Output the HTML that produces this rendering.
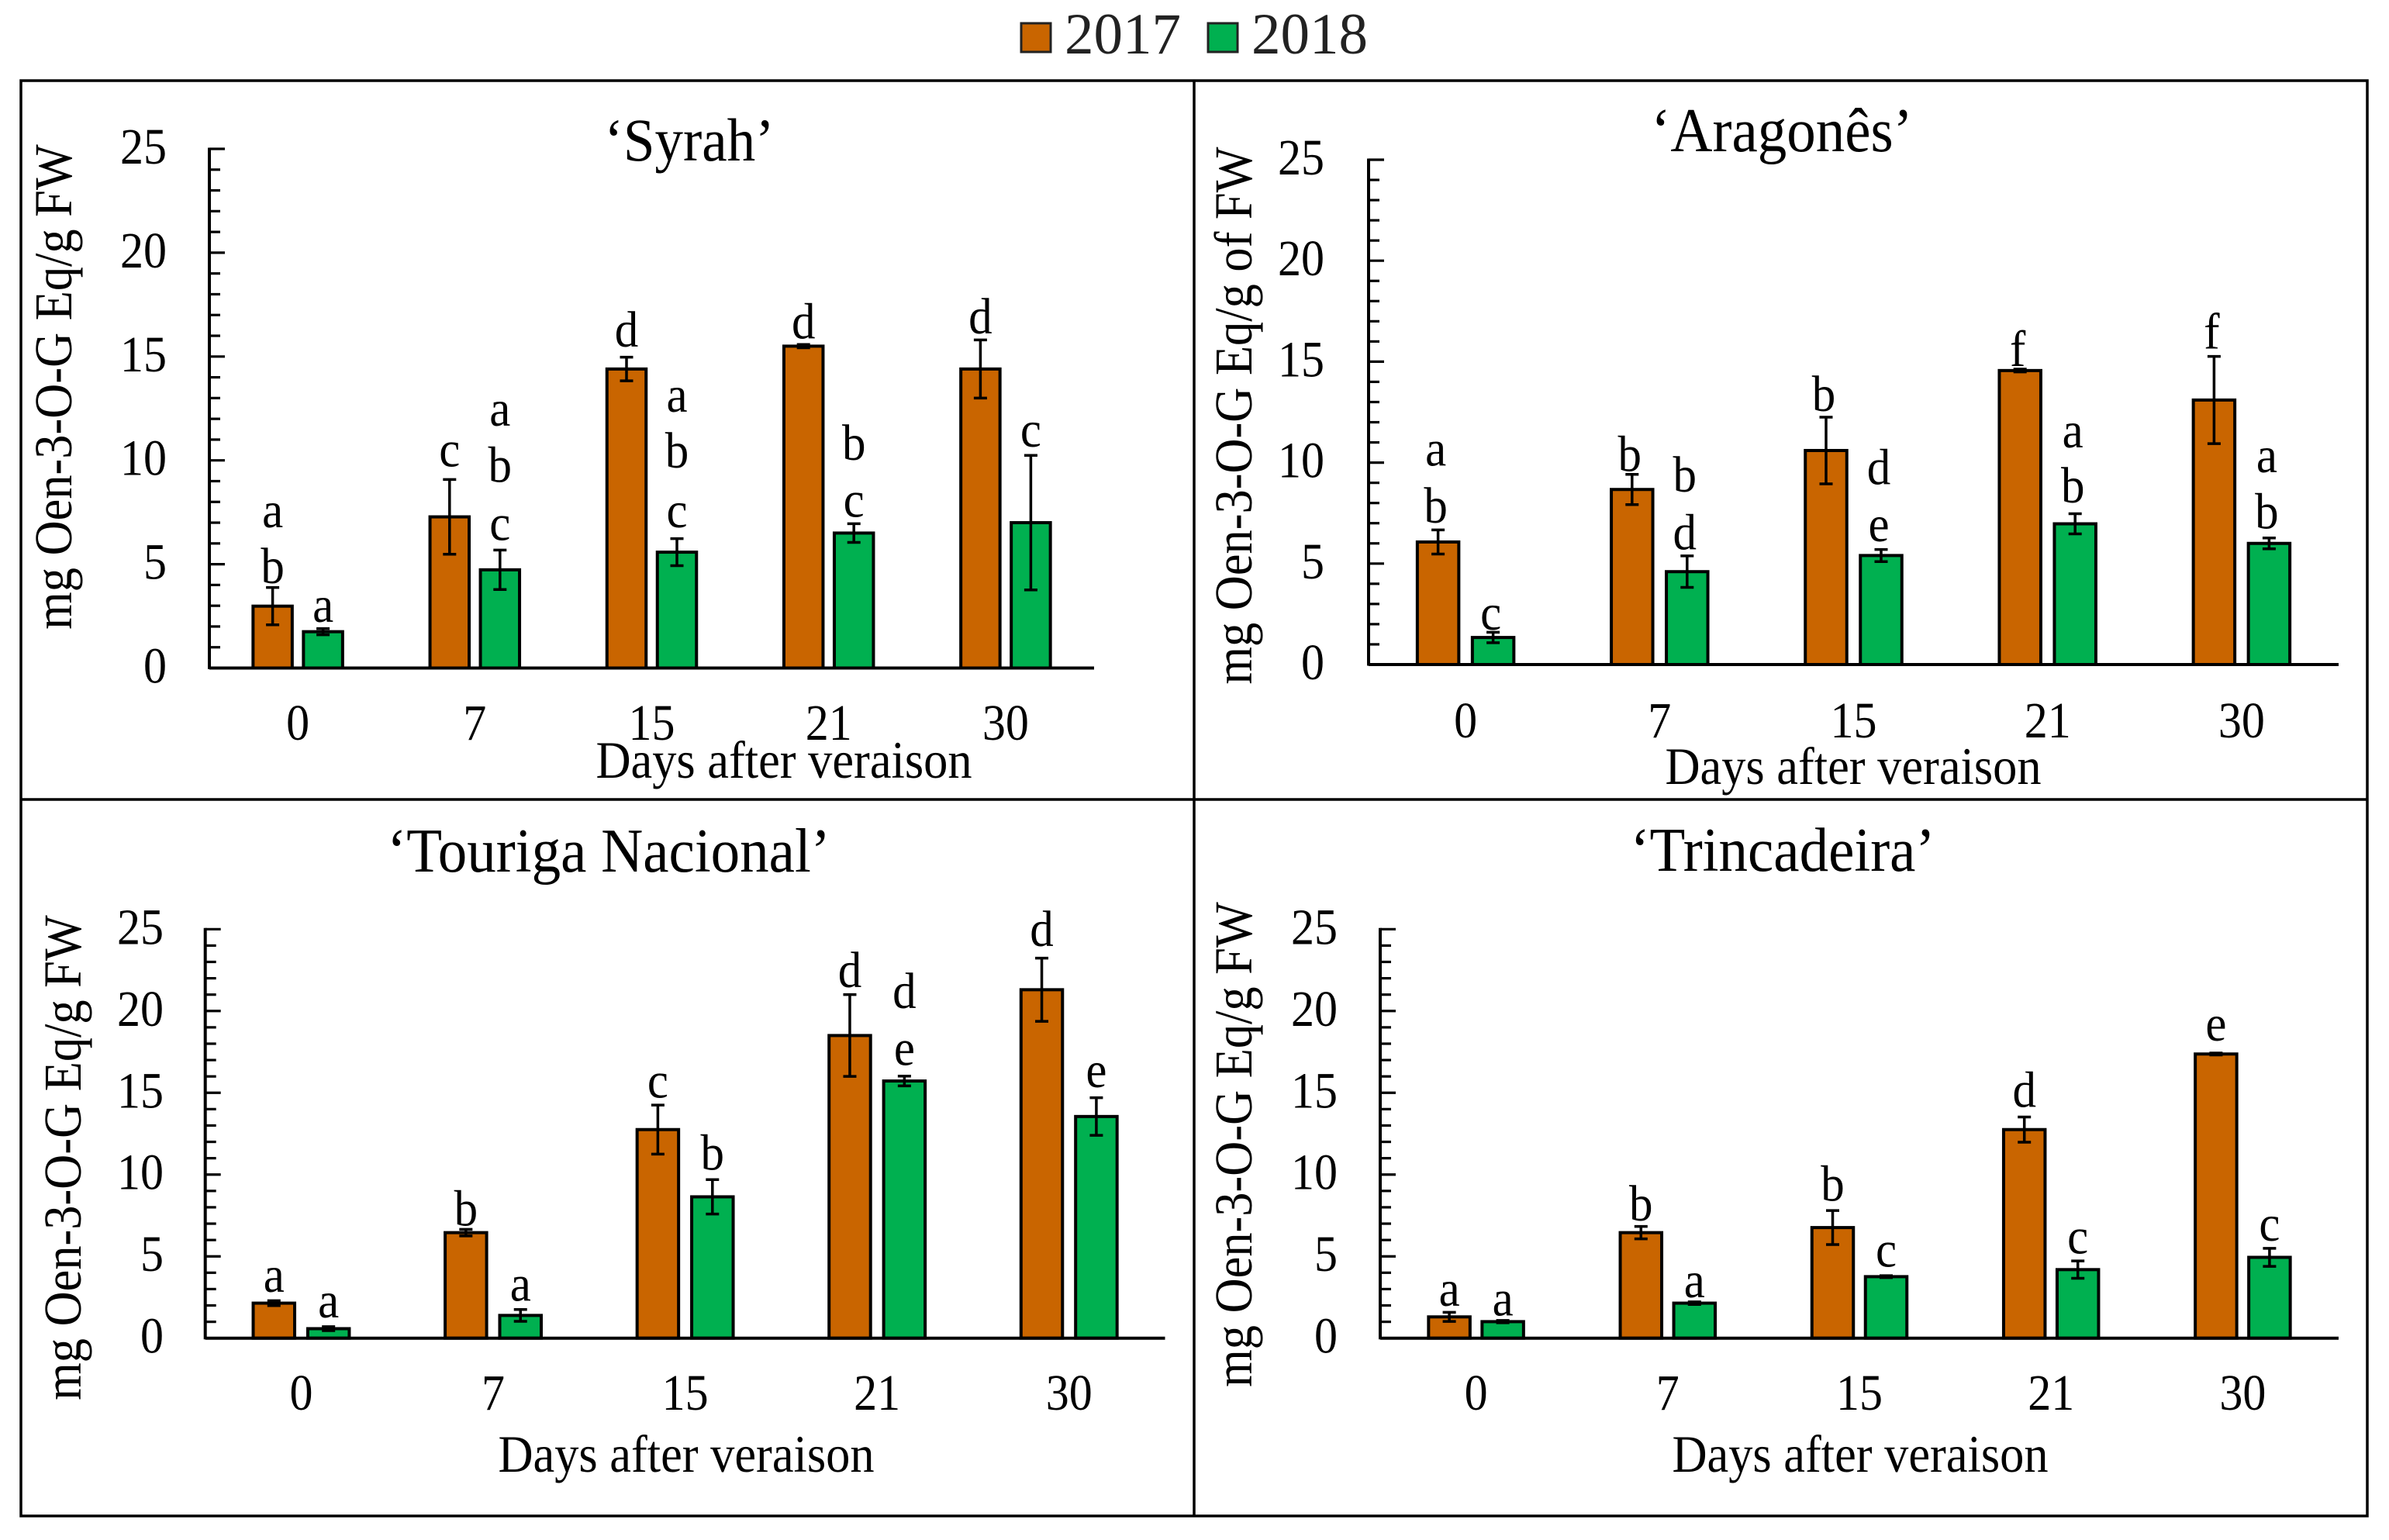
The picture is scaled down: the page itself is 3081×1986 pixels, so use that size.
<!DOCTYPE html>
<html>
<head>
<meta charset="utf-8">
<title>Oen-3-O-G by days after veraison</title>
<style>
html,body{margin:0;padding:0;background:#fff;}
svg{display:block;}
text{font-family:"Liberation Serif",serif;fill:#000;}
.title{font-size:75px;}
.axis-title{font-size:62.4px;}
.tick{font-size:60px;}
.letter{font-size:61px;}
.legend-text{font-size:75px;fill:#222;}
</style>
</head>
<body>
<svg id="chart" xmlns="http://www.w3.org/2000/svg" width="3081" height="1986" viewBox="0 0 3081 1986">
  <rect x="0" y="0" width="3081" height="1986" fill="#fff"/>

  <g>
    <rect x="1317" y="30" width="38" height="37" fill="#C96500" stroke="#222" stroke-width="3"/>
    <text class="legend-text" x="1373" y="69">2017</text>
    <rect x="1558" y="30" width="38" height="37" fill="#00B050" stroke="#222" stroke-width="3"/>
    <text class="legend-text" x="1614" y="69">2018</text>
  </g>

  <g fill="none" stroke="#000" stroke-width="3.5">
    <rect x="27" y="104" width="3026" height="1851"/>
    <line x1="1540" y1="104" x2="1540" y2="1955"/>
    <line x1="27" y1="1031" x2="3053" y2="1031"/>
  </g>

  <text class="title" style="font-size:73px" text-anchor="middle" transform="translate(889,207) scale(1,1.08)">‘Syrah’</text>
  <text class="title" text-anchor="middle" transform="translate(2298,195) scale(1,1.08)">‘Aragonês’</text>
  <text class="title" text-anchor="middle" transform="translate(785,1124) scale(1,1.08)">‘Touriga Nacional’</text>
  <text class="title" text-anchor="middle" transform="translate(2299,1123) scale(1,1.08)">‘Trincadeira’</text>

  <text class="axis-title" text-anchor="middle" transform="translate(92,499) rotate(-90) scale(1,1.1)">mg Oen-3-O-G Eq/g FW</text>
  <text class="axis-title" text-anchor="middle" transform="translate(1614,536) rotate(-90) scale(1,1.1)">mg Oen-3-O-G Eq/g of FW</text>
  <text class="axis-title" text-anchor="middle" transform="translate(104,1493) rotate(-90) scale(1,1.1)">mg Oen-3-O-G Eq/g FW</text>
  <text class="axis-title" text-anchor="middle" transform="translate(1614,1476) rotate(-90) scale(1,1.1)">mg Oen-3-O-G Eq/g FW</text>

  <text class="axis-title" text-anchor="middle" transform="translate(1011,1003) scale(1,1.08)">Days after veraison</text>
  <text class="axis-title" text-anchor="middle" transform="translate(2390,1011) scale(1,1.08)">Days after veraison</text>
  <text class="axis-title" text-anchor="middle" transform="translate(885,1898) scale(1,1.08)">Days after veraison</text>
  <text class="axis-title" text-anchor="middle" transform="translate(2399,1898) scale(1,1.08)">Days after veraison</text>

  <g id="plots"></g>
</svg>

<script>
const days = ["0", "7", "15", "21", "30"];
const yTickLabels = [0, 5, 10, 15, 20, 25];
const yMax = 25;
const yMinorStep = 1;

const syrahValues2017 = [2.98, 7.28, 14.4, 15.5, 14.4];
const syrahValues2018 = [1.75, 4.73, 5.58, 6.5, 7.0];
const syrahErrors2017 = [0.9, 1.8, 0.57, 0.08, 1.4];
const syrahErrors2018 = [0.15, 0.95, 0.65, 0.45, 3.24];
const syrahLetters2017 = [["a", "b"], ["c"], ["d"], ["d"], ["d"]];
const syrahLetters2018 = [["a"], ["a", "b", "c"], ["a", "b", "c"], ["b", "c"], ["c"]];
const syrahLetterLevels2017 = [[6.78, 4.09], [9.71], [15.47], [15.87], [16.12]];
const syrahLetterLevels2018 = [[2.23], [11.66, 8.96, 6.16], [12.34, 9.66, 6.78], [10.03, 7.28], [10.66]];

const aragonesValues2017 = [6.07, 8.67, 10.6, 14.56, 13.1];
const aragonesValues2018 = [1.34, 4.6, 5.4, 6.97, 6.0];
const aragonesErrors2017 = [0.6, 0.75, 1.65, 0.07, 2.16];
const aragonesErrors2018 = [0.26, 0.78, 0.3, 0.5, 0.27];
const aragonesLetters2017 = [["a", "b"], ["b"], ["b"], ["f"], ["f"]];
const aragonesLetters2018 = [["c"], ["b", "d"], ["d", "e"], ["a", "b"], ["a", "b"]];
const aragonesLetterLevels2017 = [[9.85, 7.02], [9.59], [12.55], [14.79], [15.64]];
const aragonesLetterLevels2018 = [[1.72], [8.56, 5.71], [8.92, 6.1], [10.75, 8.02], [9.52, 6.74]];

const tourigaValues2017 = [2.14, 6.45, 12.75, 18.5, 21.3];
const tourigaValues2018 = [0.58, 1.39, 8.64, 15.72, 13.55];
const tourigaErrors2017 = [0.15, 0.2, 1.5, 2.5, 1.93];
const tourigaErrors2018 = [0.12, 0.36, 1.05, 0.3, 1.15];
const tourigaLetters2017 = [["a"], ["b"], ["c"], ["d"], ["d"]];
const tourigaLetters2018 = [["a"], ["a"], ["b"], ["d", "e"], ["e"]];
const tourigaLetterLevels2017 = [[2.83], [6.88], [14.7], [21.47], [23.96]];
const tourigaLetterLevels2018 = [[1.27], [2.28], [10.29], [20.17, 16.7], [15.35]];

const trincadeiraValues2017 = [1.3, 6.45, 6.76, 12.75, 17.37];
const trincadeiraValues2018 = [1.01, 2.14, 3.76, 4.19, 4.94];
const trincadeiraErrors2017 = [0.28, 0.38, 1.04, 0.77, 0.06];
const trincadeiraErrors2018 = [0.07, 0.08, 0.06, 0.53, 0.55];
const trincadeiraLetters2017 = [["a"], ["b"], ["b"], ["d"], ["e"]];
const trincadeiraLetters2018 = [["a"], ["a"], ["c"], ["c"], ["c"]];
const trincadeiraLetterLevels2017 = [[1.97], [7.2], [8.41], [14.13], [18.18]];
const trincadeiraLetterLevels2018 = [[1.39], [2.49], [4.36], [5.17], [5.95]];

const COLOR_2017 = "#C96500";
const COLOR_2018 = "#00B050";
const NS = "http://www.w3.org/2000/svg";
const plots = document.getElementById("plots");

function make(tag, parent, attrs) {
  const el = document.createElementNS(NS, tag);
  for (const k in attrs) el.setAttribute(k, attrs[k]);
  parent.appendChild(el);
  return el;
}

function drawPanel(p) {
  const group = make("g", plots, {});
  
  

  const yScale = v => p.y0 - (v / yMax) * (p.y0 - p.yTop);
  const band = (p.xEnd - p.x0) / days.length;
  const xCenter = i => p.x0 + band * (i + 0.5);

  // bars and error bars
  const series = [
    { year: "2017", color: COLOR_2017, sign: -1, values: p.values2017, errors: p.errors2017, letters: p.letters2017, levels: p.levels2017 },
    { year: "2018", color: COLOR_2018, sign: 1, values: p.values2018, errors: p.errors2018, letters: p.letters2018, levels: p.levels2018 }
  ];
  series.forEach(s => {
    s.values.forEach((v, i) => {
      const cx = xCenter(i) + s.sign * p.offset;
      const bar = make("rect", group, {
        x: cx - p.barWidth / 2, y: yScale(v), width: p.barWidth, height: p.y0 - yScale(v),
        fill: s.color, stroke: "#000", "stroke-width": 4
      });
      
      

      const hi = yScale(v + s.errors[i]);
      const lo = yScale(v - s.errors[i]);
      const err = make("path", group, {
        d: "M" + cx + " " + hi + "V" + lo + "M" + (cx - 8.5) + " " + hi + "H" + (cx + 8.5) + "M" + (cx - 8.5) + " " + lo + "H" + (cx + 8.5),
        fill: "none", stroke: "#000", "stroke-width": 3.5
      });
      
      

      s.letters[i].forEach((letter, j) => {
        const t = make("text", group, {
          class: "letter", "text-anchor": "middle",
          transform: "translate(" + (cx + p.letterShift) + "," + yScale(s.levels[i][j]) + ") scale(1,1.08)"
        });
        t.textContent = letter;
        
        
      });
    });
  });

  // y axis
  const yAxis = make("line", group, { x1: p.x0, y1: p.yTop - 1.5, x2: p.x0, y2: p.y0 + 1.5, stroke: "#000", "stroke-width": 4 });
  
  

  for (let v = 0; v <= yMax; v += yMinorStep) {
    const major = v % 5 === 0;
    const tick = make("line", group, { x1: p.x0, y1: yScale(v), x2: p.x0 + (major ? 20 : 14), y2: yScale(v), stroke: "#000", "stroke-width": 3.2 });
    
    
  }

  yTickLabels.forEach(v => {
    const t = make("text", group, {
      class: "tick", "text-anchor": "end",
      transform: "translate(" + p.tickRight + "," + (yScale(v) + 19) + ") scale(1,1.1)"
    });
    t.textContent = v;
    
    
  });

  // x axis
  const xAxis = make("line", group, { x1: p.x0, y1: p.y0, x2: p.xEnd, y2: p.y0, stroke: "#000", "stroke-width": 4 });
  
  

  days.forEach((d, i) => {
    const t = make("text", group, {
      class: "tick", "text-anchor": "middle",
      transform: "translate(" + xCenter(i) + "," + p.xLabelY + ") scale(1,1.1)"
    });
    t.textContent = d;
    
    
  });
}

drawPanel({
  id: "syrah", x0: 270, xEnd: 1411, y0: 861.5, yTop: 192, barWidth: 50.5, offset: 32.5, tickRight: 215, xLabelY: 954, letterShift: 0,
  values2017: syrahValues2017, values2018: syrahValues2018,
  errors2017: syrahErrors2017, errors2018: syrahErrors2018,
  letters2017: syrahLetters2017, letters2018: syrahLetters2018,
  levels2017: syrahLetterLevels2017, levels2018: syrahLetterLevels2018
});
drawPanel({
  id: "aragones", x0: 1765, xEnd: 3016, y0: 857, yTop: 206, barWidth: 53.5, offset: 35.5, tickRight: 1708, xLabelY: 951, letterShift: -3,
  values2017: aragonesValues2017, values2018: aragonesValues2018,
  errors2017: aragonesErrors2017, errors2018: aragonesErrors2018,
  letters2017: aragonesLetters2017, letters2018: aragonesLetters2018,
  levels2017: aragonesLetterLevels2017, levels2018: aragonesLetterLevels2018
});
drawPanel({
  id: "touriga", x0: 264.7, xEnd: 1502.5, y0: 1725.7, yTop: 1198.3, barWidth: 53.5, offset: 35.2, tickRight: 211, xLabelY: 1818, letterShift: 0,
  values2017: tourigaValues2017, values2018: tourigaValues2018,
  errors2017: tourigaErrors2017, errors2018: tourigaErrors2018,
  letters2017: tourigaLetters2017, letters2018: tourigaLetters2018,
  levels2017: tourigaLetterLevels2017, levels2018: tourigaLetterLevels2018
});
drawPanel({
  id: "trincadeira", x0: 1780, xEnd: 3016, y0: 1725.7, yTop: 1198.3, barWidth: 53.5, offset: 34.5, tickRight: 1725, xLabelY: 1818, letterShift: 0,
  values2017: trincadeiraValues2017, values2018: trincadeiraValues2018,
  errors2017: trincadeiraErrors2017, errors2018: trincadeiraErrors2018,
  letters2017: trincadeiraLetters2017, letters2018: trincadeiraLetters2018,
  levels2017: trincadeiraLetterLevels2017, levels2018: trincadeiraLetterLevels2018
});
</script>
</body>
</html>
